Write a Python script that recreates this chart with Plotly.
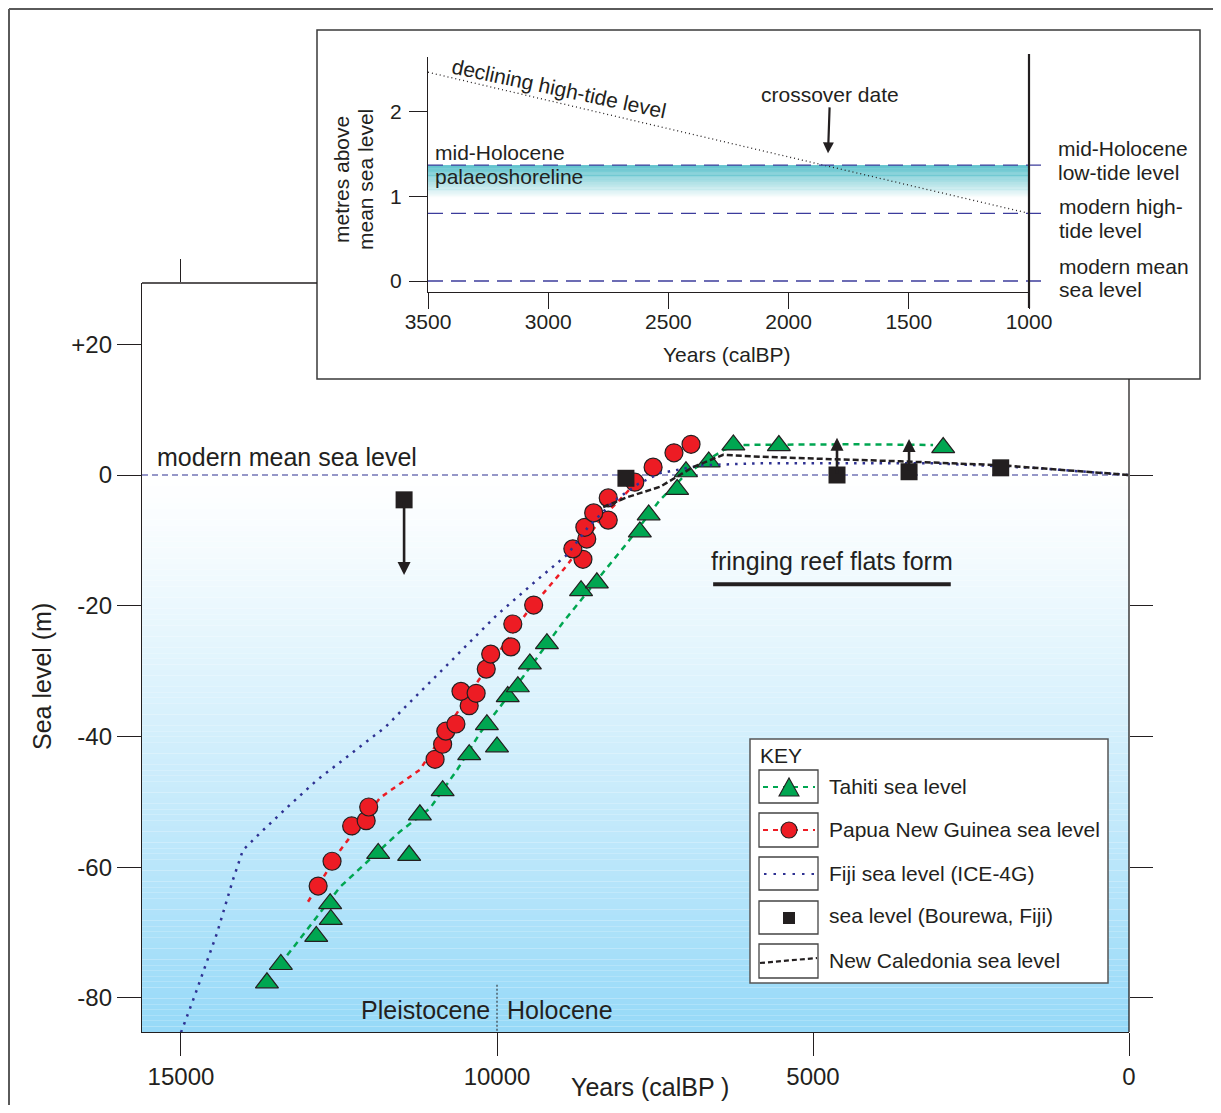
import plotly.graph_objects as go

# page body has an 8px margin: draw the figure 16px smaller and shift all pixel positions by 8
OFF = 8
W, H = 1221 - 2 * OFF, 1113 - 2 * OFF
def PX(x): return (x - OFF) / W
def PY(y): return 1 - (y - OFF) / H

FONT = "Liberation Sans, Arial, sans-serif"
INK = "#231f20"
GREEN = "#00a651"
RED = "#ed1c24"
NAVY = "#2e3192"

# ---------------- data (main panel) ----------------
tahiti_years = [13640, 13420, 12860, 12640, 12630, 11880, 11390, 11220, 10860, 10440, 10000,
                10160, 9830, 9670, 9480, 9210, 8670, 8420, 7740, 7600, 7150, 7010, 6650,
                6260, 5540, 2940]
tahiti_level = [-77.7, -74.9, -70.6, -65.6, -68.0, -57.9, -58.2, -52.0, -48.3, -42.8, -41.6,
                -38.2, -33.9, -32.4, -28.9, -25.8, -17.7, -16.5, -8.7, -6.1, -2.2, 0.5, 2.0,
                4.6, 4.5, 4.2]
tahiti_curve_years = [13320, 12480, 11540, 11060, 10630, 10270, 9590, 8960, 8260, 7940, 7420,
                      6990, 6420, 6160, 4420, 3100]
tahiti_curve_level = [-73.5, -63.0, -54.6, -51.0, -45.1, -39.5, -30.9, -22.6, -14.2, -10.4, -3.8,
                      0.3, 3.8, 4.6, 4.7, 4.6]

png_years = [12830, 12610, 12300, 12070, 12030, 10980, 10860, 10810, 10650, 10440, 10570,
             10330, 10170, 10100, 9780, 9750, 9420, 8640, 8800, 8580, 8610, 8240, 8470,
             8240, 7820, 7530, 7200, 6930]
png_level = [-62.9, -59.1, -53.7, -52.9, -50.8, -43.5, -41.2, -39.2, -38.1, -35.3, -33.1,
             -33.4, -29.7, -27.4, -26.3, -22.8, -19.9, -12.9, -11.3, -9.8, -8.0, -6.9, -5.8,
             -3.5, -1.1, 1.2, 3.4, 4.7]
png_curve_years = [12990, 12480, 11850, 11220, 10320, 9530, 8890, 8370, 7820]
png_curve_level = [-65.3, -57.4, -49.4, -45.1, -31.8, -21.1, -13.8, -6.9, -1.4]

fiji_years = [15000, 14780, 14430, 14180, 14020, 13750, 13280, 12850, 11770, 10790, 10000,
              9370, 8890, 8560, 8165, 7770, 7420, 6740, 5840, 3100, 1520, 0]
fiji_level = [-85.3, -79.6, -70.1, -62.0, -57.4, -54.8, -50.5, -46.7, -38.6, -29.1, -21.4,
              -16.1, -12.2, -8.0, -4.1, -1.4, 0.3, 1.5, 1.8, 1.8, 1.1, 0.0]

bourewa_years = [11470, 7960, 4620, 3480, 2030]
bourewa_level = [-3.8, -0.5, 0.0, 0.5, 1.1]
bourewa_arrow_years = [11470, 4620, 3480]
bourewa_arrow_from = [-3.8, 0.0, 0.5]
bourewa_arrow_to = [-15.3, 5.7, 5.5]

caledonia_years = [8320, 7940, 7420, 6900, 6420, 5840, 4620, 3620, 2040, 0]
caledonia_level = [-4.9, -3.4, -1.8, 1.2, 3.1, 2.8, 2.4, 2.1, 1.5, 0.0]

reef_period = [6580, 2820]
reef_bar_level = -16.7
epoch_boundary = 10000

x_ticks = [15000, 10000, 5000, 0]
x_ticktext = ["15000", "10000", "5000", "0"]
y_ticks = [20, 0, -20, -40, -60, -80]
y_ticktext = ["+20", "0", "-20", "-40", "-60", "-80"]
x_range = [15617, 0]
y_range = [-85.23, 29.38]

# ---------------- data (inset) ----------------
inset_x_ticks = [3500, 3000, 2500, 2000, 1500, 1000]
inset_y_ticks = [0, 1, 2]
hightide_years = [3500, 1000]
hightide_level = [2.47, 0.80]
palaeo_level = 1.37
modern_high_tide = 0.80
modern_mean = 0.0
crossover_year = 1836
crossover_level = 1.51
inset_x_range = [3500, 1000]
inset_y_range = [-0.13, 2.65]

fig = go.Figure()

fig.add_trace(go.Scatter(x=png_curve_years, y=png_curve_level, mode="lines",
                         line=dict(color=RED, width=2.5, dash="5px,5px"), hoverinfo="skip"))
fig.add_trace(go.Scatter(x=tahiti_curve_years, y=tahiti_curve_level, mode="lines",
                         line=dict(color=GREEN, width=2.5, dash="6px,5px"), hoverinfo="skip"))
fig.add_trace(go.Scatter(x=tahiti_years, y=tahiti_level, mode="markers",
                         marker=dict(symbol="triangle-up", size=20, color=GREEN,
                                     line=dict(color=INK, width=1.2))))
fig.add_trace(go.Scatter(x=png_years, y=png_level, mode="markers",
                         marker=dict(symbol="circle", size=18, color=RED,
                                     line=dict(color=INK, width=1.2))))
fig.add_trace(go.Scatter(x=fiji_years, y=fiji_level, mode="lines",
                         line=dict(color=NAVY, width=2.5, dash="2.5px,6px"), hoverinfo="skip"))
fig.add_trace(go.Scatter(x=caledonia_years, y=caledonia_level, mode="lines",
                         line=dict(color=INK, width=2.5, dash="6px,3px"), hoverinfo="skip"))
fig.add_trace(go.Scatter(x=bourewa_years, y=bourewa_level, mode="markers",
                         marker=dict(symbol="square", size=17, color=INK,
                                     line=dict(color=INK, width=0))))
fig.add_trace(go.Scatter(x=hightide_years, y=hightide_level, mode="lines", xaxis="x2", yaxis="y2",
                         line=dict(color=INK, width=1.3, dash="1px,3px"), hoverinfo="skip"))
fig.add_trace(go.Scatter(x=[None], y=[None], xaxis="x3", yaxis="y", hoverinfo="skip"))
fig.add_trace(go.Scatter(x=[None], y=[None], xaxis="x", yaxis="y3", hoverinfo="skip"))

shapes = []
# outer frame (left + top) - kept just inside the drawable area
shapes.append(dict(type="line", xref="paper", yref="paper", x0=PX(9), x1=PX(9), y0=PY(9), y1=PY(1113),
                   line=dict(color="#5a5a5a", width=2), layer="below"))
shapes.append(dict(type="line", xref="paper", yref="paper", x0=PX(9), x1=PX(1221), y0=PY(9), y1=PY(9),
                   line=dict(color="#5a5a5a", width=2), layer="below"))

n = 100
top_c = (255, 255, 255)
bot_c = (150, 217, 248)
for i in range(n):
    ya = y_range[0] * i / n
    yb = y_range[0] * (i + 1) / n
    t = ((i + 0.5) / n) ** 1.15
    c = tuple(round(top_c[k] + (bot_c[k] - top_c[k]) * t) for k in range(3))
    shapes.append(dict(type="rect", xref="x", yref="y", x0=x_range[0], x1=x_range[1], y0=ya, y1=yb,
                       fillcolor="rgb(%d,%d,%d)" % c, line=dict(width=0), layer="below"))

shapes.append(dict(type="line", xref="x", yref="y", x0=x_range[0], x1=x_range[1], y0=0, y1=0,
                   line=dict(color=NAVY, width=1.1, dash="6px,4px"), layer="below"))
shapes.append(dict(type="line", xref="x", yref="y", x0=epoch_boundary, x1=epoch_boundary,
                   y0=-78.0, y1=y_range[0], line=dict(color=INK, width=1, dash="2px,2px")))
shapes.append(dict(type="line", xref="x", yref="y", x0=reef_period[0], x1=reef_period[1],
                   y0=reef_bar_level, y1=reef_bar_level, line=dict(color=INK, width=4)))

shapes.append(dict(type="line", xref="paper", yref="paper", x0=PX(142), x1=PX(317), y0=PY(283), y1=PY(283),
                   line=dict(color=INK, width=1.3)))
shapes.append(dict(type="line", xref="paper", yref="paper", x0=PX(1129), x1=PX(1129), y0=PY(379), y1=PY(1032),
                   line=dict(color=INK, width=1.3)))

shapes.append(dict(type="rect", xref="paper", yref="paper", x0=PX(317), x1=PX(1200), y0=PY(30), y1=PY(379),
                   fillcolor="white", line=dict(color="#3a3a3a", width=1.5), layer="below"))

m = 40
band_bottom = 0.98
teal = (58, 180, 193)
for i in range(m):
    ya = palaeo_level - (palaeo_level - band_bottom) * i / m
    yb = palaeo_level - (palaeo_level - band_bottom) * (i + 1) / m
    t = ((i + 0.5) / m) ** 1.1
    c = tuple(round(teal[k] + (255 - teal[k]) * t) for k in range(3))
    shapes.append(dict(type="rect", xref="x2", yref="y2", x0=inset_x_range[0], x1=inset_x_range[1],
                       y0=ya, y1=yb, fillcolor="rgb(%d,%d,%d)" % c, line=dict(width=0), layer="below"))
for lv in [palaeo_level, modern_high_tide, modern_mean]:
    shapes.append(dict(type="line", xref="paper", yref="y2", x0=PX(428), x1=PX(1048), y0=lv, y1=lv,
                       line=dict(color="#3c3c9c", width=1.3, dash="15px,8px")))
shapes.append(dict(type="line", xref="paper", yref="paper", x0=PX(1029), x1=PX(1029), y0=PY(54), y1=PY(308),
                   line=dict(color=INK, width=2.2)))

shapes.append(dict(type="rect", xref="paper", yref="paper", x0=PX(750), x1=PX(1108), y0=PY(739), y1=PY(983),
                   fillcolor="white", line=dict(color="#555555", width=1.5)))
rows = [(770, 803), (813, 847), (857, 890), (901, 934), (944, 978)]
for (a, b) in rows:
    shapes.append(dict(type="rect", xref="paper", yref="paper", x0=PX(759), x1=PX(818), y0=PY(a), y1=PY(b),
                       fillcolor="white", line=dict(color="#444444", width=1.3)))
shapes.append(dict(type="line", xref="paper", yref="paper", x0=PX(763), x1=PX(815), y0=PY(787), y1=PY(787),
                   line=dict(color=GREEN, width=2.2, dash="5px,5px")))
shapes.append(dict(type="path", xref="paper", yref="paper",
                   path="M %f,%f L %f,%f L %f,%f Z" % (PX(779), PY(796), PX(799), PY(796), PX(789), PY(778)),
                   fillcolor=GREEN, line=dict(color=INK, width=1.1)))
shapes.append(dict(type="line", xref="paper", yref="paper", x0=PX(763), x1=PX(815), y0=PY(830), y1=PY(830),
                   line=dict(color=RED, width=2.2, dash="5px,5px")))
shapes.append(dict(type="circle", xref="paper", yref="paper", x0=PX(781), x1=PX(797), y0=PY(822), y1=PY(838),
                   fillcolor=RED, line=dict(color=INK, width=1.1)))
shapes.append(dict(type="line", xref="paper", yref="paper", x0=PX(764), x1=PX(815), y0=PY(874), y1=PY(874),
                   line=dict(color=NAVY, width=2.2, dash="2.5px,7px")))
shapes.append(dict(type="rect", xref="paper", yref="paper", x0=PX(783), x1=PX(795), y0=PY(912), y1=PY(924),
                   fillcolor=INK, line=dict(width=0)))
shapes.append(dict(type="line", xref="paper", yref="paper", x0=PX(760), x1=PX(817), y0=PY(963), y1=PY(958),
                   line=dict(color=INK, width=2.2, dash="5px,3px")))

ann = []
def txt(x, y, s, size=24, xa="center", ya="middle", angle=0):
    ann.append(dict(x=PX(x), y=PY(y), xref="paper", yref="paper", text=s, showarrow=False,
                    xanchor=xa, yanchor=ya, textangle=angle,
                    font=dict(family=FONT, size=size, color=INK)))

txt(155, 457, "modern mean sea level", 25, xa="left")
txt(832, 561, "fringing reef flats form", 25)
txt(42, 677, "Sea level (m)", 25, angle=-90)
txt(650, 1087, "Years (calBP )", 25)
ann.append(dict(x=epoch_boundary, y=-81.9, xref="x", yref="y", text="Pleistocene", showarrow=False,
                xanchor="right", yanchor="middle", xshift=-5, font=dict(family=FONT, size=25, color=INK)))
ann.append(dict(x=epoch_boundary, y=-81.9, xref="x", yref="y", text="Holocene", showarrow=False,
                xanchor="left", yanchor="middle", xshift=8, font=dict(family=FONT, size=25, color=INK)))

txt(758, 755, "KEY", 21, xa="left")
txt(827, 786, "Tahiti sea level", 21, xa="left")
txt(827, 829, "Papua New Guinea sea level", 21, xa="left")
txt(827, 873, "Fiji sea level (ICE-4G)", 21, xa="left")
txt(827, 915, "sea level (Bourewa, Fiji)", 21, xa="left")
txt(827, 960, "New Caledonia sea level", 21, xa="left")

txt(341, 180, "metres above", 21, angle=-90)
txt(365, 180, "mean sea level", 21, angle=-90)
txt(727, 354, "Years (calBP)", 21)
txt(433, 152, "mid-Holocene", 21, xa="left")
txt(433, 176, "palaeoshoreline", 21, xa="left")
txt(559, 88, "declining high-tide level", 21, angle=12)
txt(1056, 149, "mid-Holocene", 21, xa="left")
txt(1056, 172, "low-tide level", 21, xa="left")
txt(1057, 207, "modern high-", 21, xa="left")
txt(1057, 230, "tide level", 21, xa="left")
txt(1057, 266, "modern mean", 21, xa="left")
txt(1057, 289, "sea level", 21, xa="left")

ann.append(dict(x=crossover_year, y=crossover_level, xref="x2", yref="y2", text="crossover date",
                showarrow=True, ax=2, ay=-59, arrowhead=2, arrowsize=1, arrowwidth=2.2,
                arrowcolor=INK, font=dict(family=FONT, size=21, color=INK)))

for yr, a, b in zip(bourewa_arrow_years, bourewa_arrow_from, bourewa_arrow_to):
    ann.append(dict(x=yr, y=b, ax=yr, ay=a, xref="x", yref="y", axref="x", ayref="y", text="",
                    showarrow=True, arrowhead=2, arrowsize=1, arrowwidth=2.6, arrowcolor=INK,
                    standoff=0, startstandoff=0))

axis_common = dict(showgrid=False, zeroline=False, ticks="outside", tickcolor=INK, tickwidth=1.3,
                   linecolor=INK, linewidth=1.3, automargin=False)

fig.update_layout(
    template="none",
    width=W, height=H, margin=dict(l=0, r=0, t=0, b=0, pad=0), autosize=False,
    paper_bgcolor="white", plot_bgcolor="rgba(0,0,0,0)", showlegend=False,
    font=dict(family=FONT, color=INK),
    xaxis=dict(domain=[PX(142), PX(1129)], range=x_range, anchor="y", showline=True,
               tickvals=x_ticks, ticktext=x_ticktext, ticklen=23, ticklabelstandoff=0,
               tickfont=dict(family=FONT, size=24, color=INK), **axis_common),
    yaxis=dict(domain=[PY(1032), PY(283)], range=y_range, anchor="x", showline=True,
               tickvals=y_ticks, ticktext=y_ticktext, ticklen=24, ticklabelstandoff=0,
               tickfont=dict(family=FONT, size=24, color=INK), **axis_common),
    xaxis3=dict(domain=[PX(142), PX(1129)], range=x_range, anchor="y", overlaying="x", side="top",
                tickvals=[15000], ticklen=23, showticklabels=False, showline=False, **axis_common),
    yaxis3=dict(domain=[PY(1032), PY(283)], range=y_range, anchor="x", overlaying="y", side="right",
                tickvals=[0, -20, -40, -60, -80], ticklen=23, showticklabels=False, showline=False,
                **axis_common),
    xaxis2=dict(domain=[PX(428), PX(1029)], range=inset_x_range, anchor="y2", showline=True,
                tickvals=inset_x_ticks, ticklen=16, ticklabelstandoff=-5,
                tickfont=dict(family=FONT, size=21, color=INK), **axis_common),
    yaxis2=dict(domain=[PY(292), PY(57)], range=inset_y_range, anchor="x2", showline=True,
                tickvals=inset_y_ticks, ticklen=18, ticklabelstandoff=3,
                tickfont=dict(family=FONT, size=21, color=INK), **axis_common),
    shapes=shapes, annotations=ann,
)

fig.write_html("out.html")
